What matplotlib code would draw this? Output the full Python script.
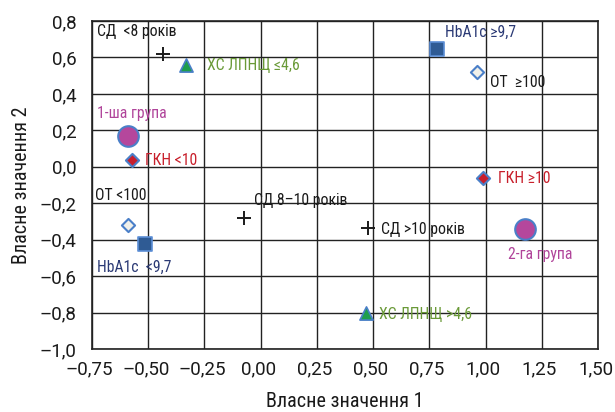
import matplotlib
matplotlib.use("Agg")
import matplotlib.pyplot as plt
import matplotlib.transforms as mtransforms
from matplotlib.ticker import FuncFormatter
import numpy as np

COND = ['Roboto Condensed', 'Liberation Sans Narrow', 'Roboto', 'DejaVu Sans']
REG = ['Roboto', 'DejaVu Sans']
plt.rcParams['font.family'] = COND

# Data
labels = ["СД  <8 років", "ХС ЛПНЩ ≤4,6", "1-ша група", "ГКН <10", "ОТ <100", "HbA1c  <9,7",
          "СД 8–10 років", "СД >10 років", "ХС ЛПНЩ >4,6", "HbA1c ≥9,7", "ОТ  ≥100", "ГКН ≥10", "2-га група"]
x_vals = [-0.434, -0.33, -0.589, -0.571, -0.592, -0.515, -0.072, 0.475, 0.467, 0.784, 0.961, 0.99, 1.175]
y_vals = [0.62, 0.56, 0.17, 0.037, -0.319, -0.424, -0.282, -0.337, -0.805, 0.647, 0.52, -0.063, -0.342]
kinds = ["plus", "tri", "circle", "dred", "dopen", "square", "plus", "plus", "tri", "square", "dopen", "dred", "circle"]
label_x = [-0.728, -0.238, -0.73, -0.515, -0.735, -0.728, -0.031, 0.533, 0.525, 0.821, 1.02, 1.057, 1.101]
label_y = [0.74, 0.556, 0.29, 0.037, -0.156, -0.55, -0.184, -0.342, -0.812, 0.738, 0.46, -0.063, -0.479]

xticks = [-0.75, -0.5, -0.25, 0.0, 0.25, 0.5, 0.75, 1.0, 1.25, 1.5]
yticks = [-1.0, -0.8, -0.6, -0.4, -0.2, 0.0, 0.2, 0.4, 0.6, 0.8]

styles = {
    "plus": dict(marker="+", s=110, c="#1a1a1a", linewidths=1.4),
    "tri": dict(marker="^", s=90, c="#1f9e4c", edgecolors="#4a7fc8", linewidths=1.2),
    "circle": dict(marker="o", s=220, c="#b5479c", edgecolors="#4a7fc8", linewidths=1.5),
    "dred": dict(marker="D", s=45, c="#c81e2c", edgecolors="#4a7fc8", linewidths=1.5),
    "dopen": dict(marker="D", s=45, c="#f0f0ea", edgecolors="#4a7fc8", linewidths=1.5),
    "square": dict(marker="s", s=100, c="#2f5b94", edgecolors="#5b8ed6", linewidths=1.2),
}
text_colors = {
    "ХС": "#6a9a38", "1-ша": "#b0449a", "2-га": "#b0449a", "ГКН": "#c8202c", "HbA1c": "#2b3a75",
}

fig = plt.figure(figsize=(6.15, 4.12), dpi=100)
ax = fig.add_axes([0.1496, 0.153, 0.8228, 0.796])

for x, y, k in zip(x_vals, y_vals, kinds):
    ax.scatter([x], [y], zorder=3, **styles[k])

for lab, lx, ly in zip(labels, label_x, label_y):
    col = "#1a1a1a"
    for key, c in text_colors.items():
        if lab.startswith(key):
            col = c
    ax.text(lx, ly, lab, color=col, fontsize=11.3, ha="left", va="center", zorder=4)

ax.set_xlim(-0.75, 1.5)
ax.set_ylim(-1.0, 0.8)
ax.set_xticks(xticks)
ax.set_yticks(yticks)
ax.xaxis.set_major_formatter(FuncFormatter(lambda v, p: f"{v:.2f}".replace(".", ",").replace("-", "–")))
ax.yaxis.set_major_formatter(FuncFormatter(lambda v, p: f"{v:.1f}".replace(".", ",").replace("-", "–")))
ax.tick_params(axis="x", length=0, labelsize=13.5, pad=8, colors="#1a1a1a")
ax.tick_params(axis="y", length=0, labelsize=13.5, pad=11, colors="#1a1a1a")
shift = mtransforms.ScaledTranslation(-2.5 / 100, 0, fig.dpi_scale_trans)
for t in ax.get_xticklabels():
    t.set_family(REG)
    t.set_transform(t.get_transform() + shift)
for t in ax.get_yticklabels():
    t.set_family(REG)
ax.grid(True, color="#222222", linewidth=1.0)
ax.set_axisbelow(True)
for s in ax.spines.values():
    s.set_color("#222222")
    s.set_linewidth(1.2)

ax.set_xlabel("Власне значення 1", fontsize=14.5, color="#1a1a1a", va="center")
ax.set_ylabel("Власне значення 2", fontsize=14.5, color="#1a1a1a", va="center")
ax.xaxis.set_label_coords(0.5, -0.161)
ax.yaxis.set_label_coords(-0.14, 0.5)

fig.savefig("out.png", dpi=100)
